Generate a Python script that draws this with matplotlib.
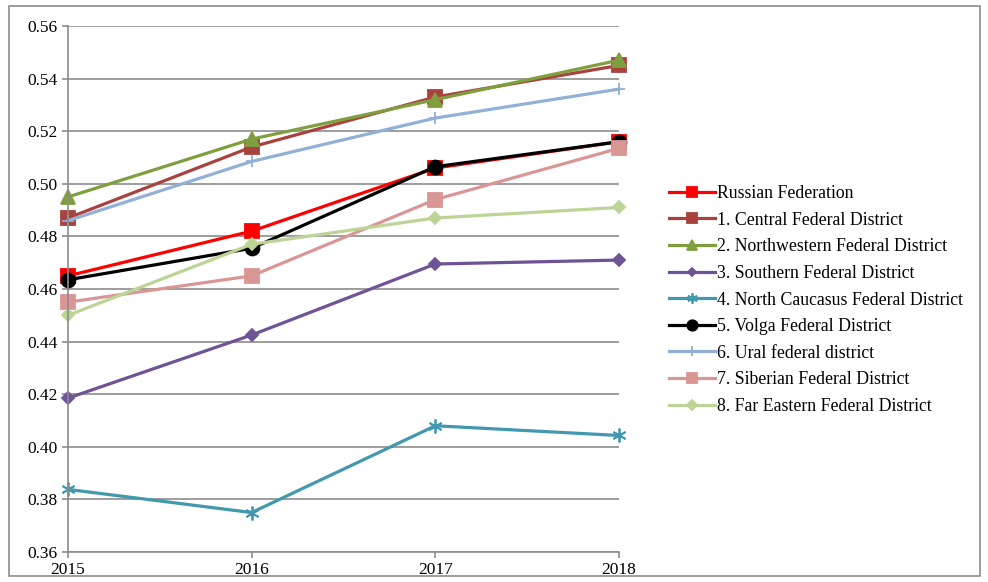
import matplotlib
matplotlib.use("Agg")
import matplotlib.pyplot as plt
from matplotlib.patches import Rectangle

plt.rcParams['font.family'] = ['Liberation Serif', 'DejaVu Serif']

years = [2015, 2016, 2017, 2018]

russia = [0.465, 0.482, 0.506, 0.516]
central = [0.487, 0.514, 0.533, 0.545]
northwestern = [0.495, 0.517, 0.532, 0.547]
southern = [0.4185, 0.4425, 0.4695, 0.471]
north_caucasus = [0.3838, 0.375, 0.408, 0.4043]
volga = [0.4635, 0.4755, 0.5065, 0.516]
ural = [0.486, 0.5085, 0.525, 0.536]
siberian = [0.455, 0.465, 0.494, 0.5135]
far_eastern = [0.450, 0.477, 0.487, 0.491]

labels = ["Russian Federation",
          "1. Central Federal District",
          "2. Northwestern Federal District",
          "3. Southern Federal District",
          "4. North Caucasus Federal District",
          "5. Volga Federal District",
          "6. Ural federal district",
          "7. Siberian Federal District",
          "8. Far Eastern Federal District"]

series = [russia, central, northwestern, southern, north_caucasus,
          volga, ural, siberian, far_eastern]

# colour, marker, marker size
styles = [("#FF0000", "s", 10),
          ("#A9423F", "s", 9.5),
          ("#7F9F3F", "^", 9.5),
          ("#6E5396", "D", 6),
          ("#4298AF", (6, 2, 0), 10),
          ("#000000", "o", 10),
          ("#92B0D6", "+", 9),
          ("#D99694", "s", 9.5),
          ("#BCD496", "D", 6.5)]

fig = plt.figure(figsize=(9.88, 5.82), dpi=100)
ax = fig.add_axes([68 / 988, 1 - 552 / 582, (619 - 68) / 988, (552 - 26) / 582])

for vals, lab, (col, mk, ms) in zip(series, labels, styles):
    ax.plot(years, vals, color=col, lw=2.3, marker=mk, markersize=ms,
            markeredgecolor=col, markerfacecolor=col, markeredgewidth=1.3,
            label=lab, clip_on=False)

ax.set_xlim(2015, 2018)
ax.set_ylim(0.36, 0.56)
ax.set_xticks(years)
ax.set_yticks([0.36 + 0.02 * i for i in range(11)])
ax.yaxis.set_major_formatter(matplotlib.ticker.FormatStrFormatter('%.2f'))
ax.grid(axis='y', color='#8C8C8C', lw=1.2)
ax.set_axisbelow(True)
for s in ['top', 'right']:
    ax.spines[s].set_visible(False)
for s in ['left', 'bottom']:
    ax.spines[s].set_color('#8C8C8C')
    ax.spines[s].set_linewidth(1.2)
ax.tick_params(colors='#8C8C8C', labelcolor='black', labelsize=12.5, length=4, width=1.2)

# legend handles a bit smaller than the plotted markers
leg = fig.legend(loc='upper left', bbox_to_anchor=(662 / 988, 1 - 178 / 582),
                 frameon=False, fontsize=12.8, handlelength=2.6, handletextpad=0.1,
                 labelspacing=0.54, borderaxespad=0, markerscale=0.75)

fig.patches.append(Rectangle((9 / 988, 6 / 582), 971 / 988, 570 / 582,
                             transform=fig.transFigure, fill=False,
                             edgecolor='#8C8C8C', lw=1.2))

fig.savefig("out.png", dpi=100)
